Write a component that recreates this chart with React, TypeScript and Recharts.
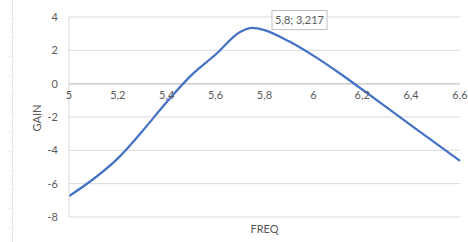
import { LineChart, Line, XAxis, YAxis, CartesianGrid, ReferenceLine, ReferenceDot } from "recharts"

const freq = [5, 5.1, 5.2, 5.3, 5.4, 5.5, 5.6, 5.7, 5.75, 5.8, 5.9, 6, 6.1, 6.2, 6.3, 6.4, 6.5, 6.6]
const gain = [-6.75, -5.72, -4.48, -2.85, -1.1, 0.5, 1.75, 3.1, 3.35, 3.217, 2.54, 1.68, 0.7, -0.35, -1.42, -2.5, -3.57, -4.63]

const xTicks = [5, 5.2, 5.4, 5.6, 5.8, 6, 6.2, 6.4, 6.6]
const xTickLabels = ["5", "5,2", "5,4", "5,6", "5,8", "6", "6,2", "6,4", "6,6"]
const yTicks = [-8, -6, -4, -2, 0, 2, 4]

const callout = { freq: 5.8, gain: 3.217, text: "5,8; 3,217" }

const data = freq.map((f, i) => ({ freq: f, gain: gain[i] }))

const FONT = "Lato, 'Open Sans', sans-serif"
const TEXT = "#595959"
const GRID = "#d9d9d9"

function XTickLabel({ viewBox, value }: any) {
  const cx = viewBox.x + viewBox.width / 2
  const cy = viewBox.y + viewBox.height / 2
  return (
    <text x={cx} y={cy + 15} textAnchor="middle" fontSize={11} fill={TEXT} fontFamily={FONT}>
      {value}
    </text>
  )
}

function CalloutLabel({ viewBox }: any) {
  const cx = viewBox.x + viewBox.width / 2
  const cy = viewBox.y + viewBox.height / 2
  return (
    <g>
      <rect x={cx + 7.5} y={cy - 19.5} width={55} height={19} fill="#fff" stroke="#bfbfbf" />
      <text x={cx + 35} y={cy - 6} textAnchor="middle" fontSize={11} fill={TEXT} fontFamily={FONT}>
        {callout.text}
      </text>
    </g>
  )
}

export default function App() {
  return (
    <div style={{ position: "absolute", left: 0, top: 0, width: 468, height: 242, background: "#fff", fontFamily: FONT }}>
      <div style={{ position: "absolute", left: 12, top: 0, width: 1, height: 242, background: "#e6e6e6" }} />
      <div
        style={{
          position: "absolute", left: 9, top: 0, width: 3, height: 242,
          backgroundImage: "repeating-linear-gradient(to bottom, transparent 0 18px, #ececec 18px 19px)",
        }}
      />
      <LineChart width={468} height={242} data={data} margin={{ top: 17, right: 8, bottom: 0, left: 0 }}>
        <CartesianGrid vertical={false} stroke={GRID} strokeWidth={1} />
        <XAxis
          type="number"
          dataKey="freq"
          domain={[5, 6.6]}
          ticks={xTicks}
          tick={false}
          tickLine={false}
          axisLine={false}
          height={25}
          label={{ value: "FREQ", position: "center", fontSize: 11, fill: TEXT, fontFamily: FONT }}
        />
        <YAxis
          type="number"
          domain={[-8, 4]}
          ticks={yTicks}
          width={69}
          tickLine={false}
          tickSize={6}
          tickMargin={5}
          axisLine={{ stroke: GRID }}
          tick={{ fontSize: 11, fill: TEXT, fontFamily: FONT }}
          label={{ value: "GAIN", angle: -90, position: "center", dx: 3, dy: 1, fontSize: 11, fill: TEXT, fontFamily: FONT }}
        />
        <ReferenceLine y={0} stroke="#cfcfcf" strokeWidth={1.5} />
        {xTicks.map((t, i) => (
          <ReferenceDot
            key={t}
            x={t}
            y={0}
            r={0}
            fill="none"
            stroke="none"
            label={<XTickLabel value={xTickLabels[i]} />}
          />
        ))}
        <Line
          type="monotone"
          dataKey="gain"
          stroke="#4472c4"
          strokeWidth={2.25}
          dot={false}
          isAnimationActive={false}
        />
        <ReferenceDot
          x={callout.freq}
          y={callout.gain}
          r={0}
          fill="none"
          stroke="none"
          label={<CalloutLabel />}
        />
      </LineChart>
    </div>
  )
}
